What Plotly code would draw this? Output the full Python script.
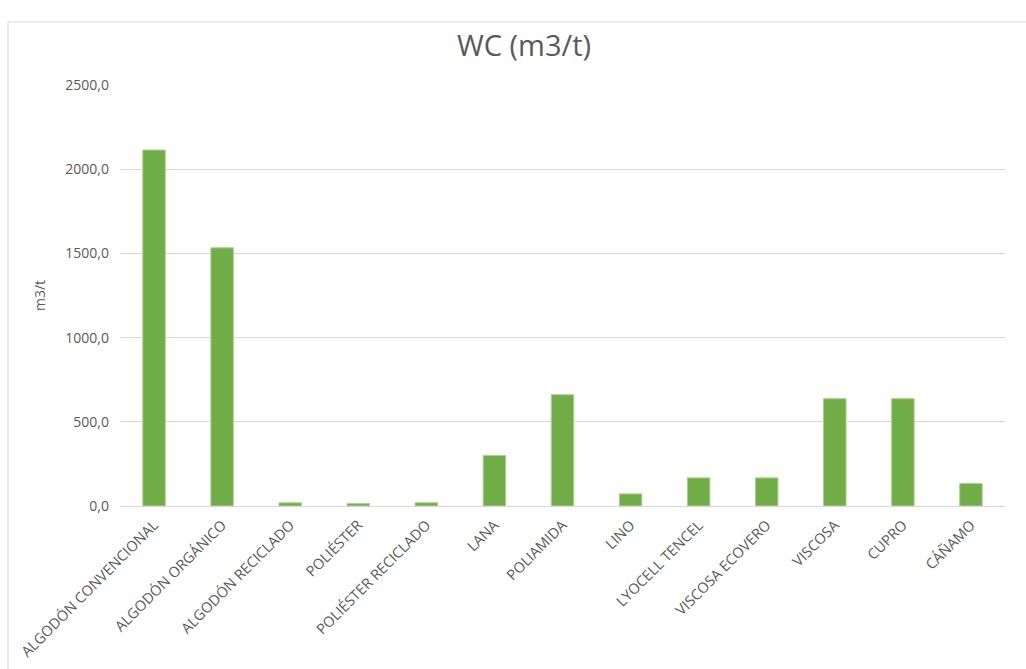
import plotly.graph_objects as go

categories = [
    "ALGODÓN CONVENCIONAL", "ALGODÓN ORGÁNICO", "ALGODÓN RECICLADO",
    "POLIÉSTER", "POLIÉSTER RECICLADO", "LANA", "POLIAMIDA", "LINO",
    "LYOCELL TENCEL", "VISCOSA ECOVERO", "VISCOSA", "CUPRO", "CÁÑAMO",
]
wc_values = [2114, 1533, 19, 14, 19, 300, 661, 72, 167, 167, 637, 637, 133]
y_ticks = [0, 500, 1000, 1500, 2000, 2500]

W, H = 1026, 669
L, R, T, B = 120, 21, 85, 163
pw, ph = W - L - R, H - T - B

fig = go.Figure(go.Bar(
    x=categories,
    y=wc_values,
    marker=dict(color="#70AD47", line=dict(color="#A9D18E", width=1)),
    width=0.33,
))

font_family = "Open Sans, Noto Sans, sans-serif"
grey = "#595959"

fig.update_layout(
    width=W, height=H,
    margin=dict(l=L, r=R, t=T, b=B, autoexpand=False),
    paper_bgcolor="white", plot_bgcolor="white",
    separators=",.",
    showlegend=False,
    font=dict(family=font_family, color=grey, size=12),
    title=dict(
        text="WC (m3/t)", x=524 / W, xanchor="center", xref="container",
        y=1 - 46 / H, yanchor="middle", yref="container",
        font=dict(size=29, color=grey, family=font_family),
    ),
    xaxis=dict(
        tickangle=-45, showgrid=False, showline=True, linecolor="#D9D9D9",
        linewidth=1, ticks="", tickfont=dict(size=14.5, color=grey),
        ticklabelstandoff=4, automargin=False,
    ),
    yaxis=dict(
        range=[0, 2500], tickvals=y_ticks, tickformat=".1f",
        showgrid=True, gridcolor="#D9D9D9", gridwidth=1,
        zeroline=False, showline=False, ticks="",
        tickfont=dict(size=14, color=grey), ticklabelstandoff=10,
        title=dict(text="m3/t", font=dict(size=14, color=grey), standoff=16),
        automargin=False,
    ),
    shapes=[
        # chart frame (left and top edges)
        dict(type="line", xref="paper", yref="paper",
             x0=(8 - L) / pw, x1=(8 - L) / pw, y0=1 + (T - 22) / ph, y1=-1,
             line=dict(color="#D9D9D9", width=1)),
        dict(type="line", xref="paper", yref="paper",
             x0=(8 - L) / pw, x1=1.2, y0=1 + (T - 22) / ph, y1=1 + (T - 22) / ph,
             line=dict(color="#D9D9D9", width=1)),
    ],
)

fig.write_html("out.html")
